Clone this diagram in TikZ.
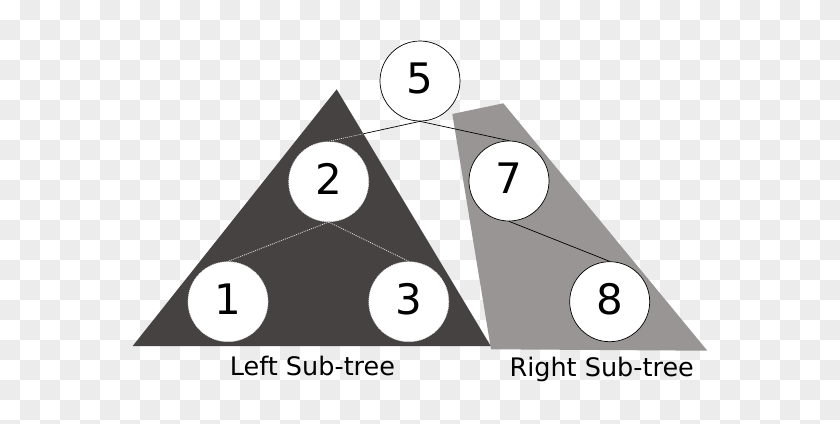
\documentclass[tikz,border=0pt]{standalone}
\usepackage{fontspec}
\setmainfont{DejaVu Sans}
\definecolor{checker}{HTML}{ECECEC}
\definecolor{darktri}{HTML}{474242}
\definecolor{lighttri}{HTML}{9A9595}
\definecolor{faint}{HTML}{DADADA}
\tikzset{
  treenode/.style={circle, fill=white, draw=black, line width=0.7pt, minimum size=80pt, inner sep=0pt,
    font=\fontsize{42}{42}\selectfont, text depth=5pt},
  darknode/.style={treenode, draw=faint, dash pattern=on 1pt off 1pt},
  edge/.style={draw=black, line width=0.7pt},
  darkedge/.style={draw=faint, line width=0.8pt, dash pattern=on 1pt off 1pt},
  sublabel/.style={anchor=base, font=\fontsize{25.5}{26}\selectfont, inner sep=0pt}
}
\begin{document}
\begin{tikzpicture}[x=1pt,y=-1pt]
\useasboundingbox (0,0) rectangle (840,423);
% transparency checkerboard
\fill[white] (0,0) rectangle (840,423);
\begin{scope}
\clip (0,0) rectangle (840,423);
\foreach \i in {0,...,41}{
  \foreach \j in {0,...,21}{
    \pgfmathtruncatemacro{\chk}{mod(\i+\j,2)}
    \ifnum\chk=1 \fill[checker] (\i*20,\j*20) rectangle ++(20,20); \fi
  }
}
\end{scope}
% subtrees
\fill[lighttri] (452.3,114) -- (503.3,103.3) -- (707.3,350.7) -- (491,349.3) -- cycle;
\fill[darktri] (336.7,89.3) -- (490.7,346) -- (132.7,346) -- cycle;
% nodes
\node[treenode] (n5) at (420,81) {5};
\node[darknode] (n2) at (328.7,181.7) {2};
\node[darknode] (n1) at (228,301.7) {1};
\node[darknode] (n3) at (408.8,301.7) {3};
\node[treenode] (n7) at (509,181) {7};
\node[treenode] (n8) at (609.7,301.7) {8};
% edges
\draw[edge] (n5.south) -- (n2.north);
\begin{scope}
\clip (336.7,89.3) -- (490.7,346) -- (132.7,346) -- cycle;
\draw[darktri, line width=1.2pt] (n5.south) -- (n2.north);
\draw[darkedge] (n5.south) -- (n2.north);
\end{scope}
\draw[edge] (n5.south) -- (n7.north);
\draw[edge] (n7.south) -- (n8.north);
\draw[darkedge] (n2.south) -- (n1.north);
\draw[darkedge] (n2.south) -- (n3.north);
% labels
\node[sublabel] (lt) at (312.5,375) {Left Sub-tree};
\node[sublabel] (rt) at (601.7,376.7) {Right Sub-tree};
\end{tikzpicture}
\end{document}
